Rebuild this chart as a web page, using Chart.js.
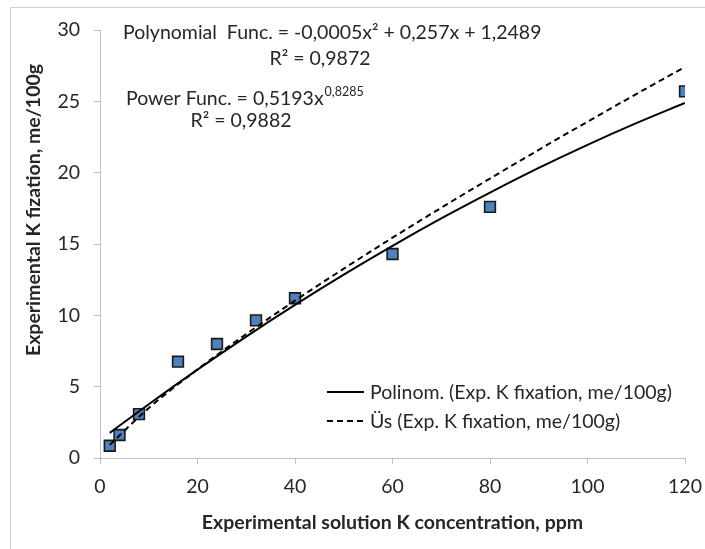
<!DOCTYPE html>
<html>
<head>
<meta charset="utf-8">
<script src="https://cdn.jsdelivr.net/npm/chart.js@4.4.1/dist/chart.umd.min.js"></script>
<style>
  html, body { margin: 0; padding: 0; background: #ffffff; }
  #wrap { position: relative; width: 705px; height: 549px; }
  canvas { display: block; }
</style>
</head>
<body>
<div id="wrap"><canvas id="c" width="705" height="549"></canvas></div>
<script>
// Measured data: K concentration (ppm) vs experimental K fixation (me/100g)
const concentration = [2, 4, 8, 16, 24, 32, 40, 60, 80, 120];
const fixation = [0.86, 1.61, 3.08, 6.75, 7.99, 9.65, 11.2, 14.3, 17.6, 25.7];

// Trend lines
const trendX = [2, 10, 20, 30, 40, 50, 60, 70, 80, 90, 100, 110, 120];
const polyTrend = [1.76, 3.77, 6.19, 8.51, 10.73, 12.85, 14.87, 16.79, 18.6, 20.33, 21.95, 23.47, 24.89];
const powerTrend = [0.92, 3.5, 6.21, 8.69, 11.03, 13.27, 15.44, 17.54, 19.59, 21.6, 23.57, 25.51, 27.41];

// Tick values / labels
const xTicks = [0, 20, 40, 60, 80, 100, 120];
const yTicks = [0, 5, 10, 15, 20, 25, 30];

// Texts
const xTitle = 'Experimental solution K concentration, ppm';
const yTitle = 'Experimental K fization, me/100g';
const polyEq = 'Polynomial  Func. = -0,0005x² + 0,257x + 1,2489';
const polyR2 = 'R² = 0,9872';
const powerEqBase = 'Power Func. = 0,5193x';
const powerEqExp = '0,8285';
const powerR2 = 'R² = 0,9882';
const legendLabels = ['Polinom. (Exp. K fixation, me/100g)', 'Üs (Exp. K fixation, me/100g)'];

const FONT = 'Lato, "Open Sans", sans-serif';
const FS = 19.5;
const TXT = '#262626';

const toXY = (xs, ys) => xs.map((x, i) => ({ x: x, y: ys[i] }));

const decorPlugin = {
  id: 'decor',
  beforeDraw(chart) {
    const ctx = chart.ctx;
    ctx.save();
    ctx.fillStyle = '#ffffff';
    ctx.fillRect(0, 0, chart.width, chart.height);
    ctx.strokeStyle = '#d0d0d0';
    ctx.lineWidth = 1;
    ctx.beginPath();
    ctx.moveTo(10.5, chart.height);
    ctx.lineTo(10.5, 7.5);
    ctx.lineTo(chart.width, 7.5);
    ctx.stroke();
    ctx.restore();
  },
  afterDraw(chart) {
    const ctx = chart.ctx;
    ctx.save();
    ctx.fillStyle = TXT;
    ctx.textBaseline = 'alphabetic';

    // y axis title (rotated)
    ctx.save();
    ctx.font = 'bold ' + FS + 'px ' + FONT;
    ctx.translate(40, 210);
    ctx.rotate(-Math.PI / 2);
    ctx.textAlign = 'center';
    ctx.fillText(yTitle, 0, 0);
    ctx.restore();

    // equations
    ctx.font = FS + 'px ' + FONT;
    ctx.textAlign = 'left';
    ctx.fillText(polyEq, 123, 39);
    ctx.textAlign = 'center';
    ctx.fillText(polyR2, 320, 65);
    ctx.textAlign = 'left';
    ctx.fillText(powerEqBase, 126, 105);
    const w = ctx.measureText(powerEqBase).width;
    ctx.font = '12.5px ' + FONT;
    ctx.fillText(powerEqExp, 126 + w + 1, 96);
    ctx.font = FS + 'px ' + FONT;
    ctx.textAlign = 'center';
    ctx.fillText(powerR2, 241, 127);

    // legend
    ctx.textAlign = 'left';
    ctx.font = FS + 'px ' + FONT;
    ctx.strokeStyle = '#000000';
    ctx.lineWidth = 2;
    ctx.beginPath();
    ctx.setLineDash([]);
    ctx.moveTo(327, 392);
    ctx.lineTo(364, 392);
    ctx.stroke();
    ctx.fillText(legendLabels[0], 370, 399);
    ctx.beginPath();
    ctx.setLineDash([6, 4]);
    ctx.moveTo(327, 421);
    ctx.lineTo(364, 421);
    ctx.stroke();
    ctx.setLineDash([]);
    ctx.fillText(legendLabels[1], 370, 428);
    ctx.restore();
  }
};

new Chart(document.getElementById('c'), {
  type: 'scatter',
  data: {
    datasets: [
      {
        label: legendLabels[0],
        type: 'line',
        data: toXY(trendX, polyTrend),
        borderColor: '#000000',
        borderWidth: 2,
        pointRadius: 0,
        fill: false,
        cubicInterpolationMode: 'monotone',
        order: 0
      },
      {
        label: legendLabels[1],
        type: 'line',
        data: toXY(trendX, powerTrend),
        borderColor: '#000000',
        borderWidth: 2,
        borderDash: [6, 4],
        pointRadius: 0,
        fill: false,
        cubicInterpolationMode: 'monotone',
        order: 0
      },
      {
        label: 'Exp. K fixation, me/100g',
        data: toXY(concentration, fixation),
        pointStyle: 'rect',
        pointRadius: 7.6,
        pointHoverRadius: 7.6,
        backgroundColor: '#4F81BD',
        borderColor: '#1a1a1a',
        borderWidth: 1.6,
        order: 1
      }
    ]
  },
  plugins: [decorPlugin],
  options: {
    responsive: false,
    animation: false,
    devicePixelRatio: 1,
    layout: { padding: { top: 30, right: 20, left: 0, bottom: 0 } },
    plugins: {
      legend: { display: false },
      tooltip: { enabled: false },
      title: { display: false }
    },
    scales: {
      x: {
        type: 'linear',
        min: 0,
        max: 120,
        afterBuildTicks: (s) => { s.ticks = xTicks.map(v => ({ value: v })); },
        afterFit: (s) => { s.height = 91; s.paddingLeft = 0; s.paddingRight = 0; },
        grid: { drawOnChartArea: false, drawTicks: true, tickLength: 6, color: '#bfbfbf' },
        border: { display: true, color: '#bfbfbf', width: 1 },
        ticks: { color: TXT, padding: 11, font: { family: FONT, size: FS, lineHeight: 1.2 }, maxRotation: 0 },
        title: {
          display: true,
          text: xTitle,
          color: TXT,
          font: { family: FONT, size: FS, weight: 'bold', lineHeight: 1.2 },
          padding: { top: 0, bottom: 15 }
        }
      },
      y: {
        type: 'linear',
        min: 0,
        max: 30,
        afterBuildTicks: (s) => { s.ticks = yTicks.map(v => ({ value: v })); },
        afterFit: (s) => { s.width = 100; s.paddingTop = 0; s.paddingBottom = 0; },
        grid: { drawOnChartArea: false, drawTicks: true, tickLength: 6, color: '#bfbfbf' },
        border: { display: true, color: '#bfbfbf', width: 1 },
        ticks: { color: TXT, padding: 14, font: { family: FONT, size: FS, lineHeight: 1.2 } },
        title: { display: false }
      }
    }
  }
});
</script>
</body>
</html>
